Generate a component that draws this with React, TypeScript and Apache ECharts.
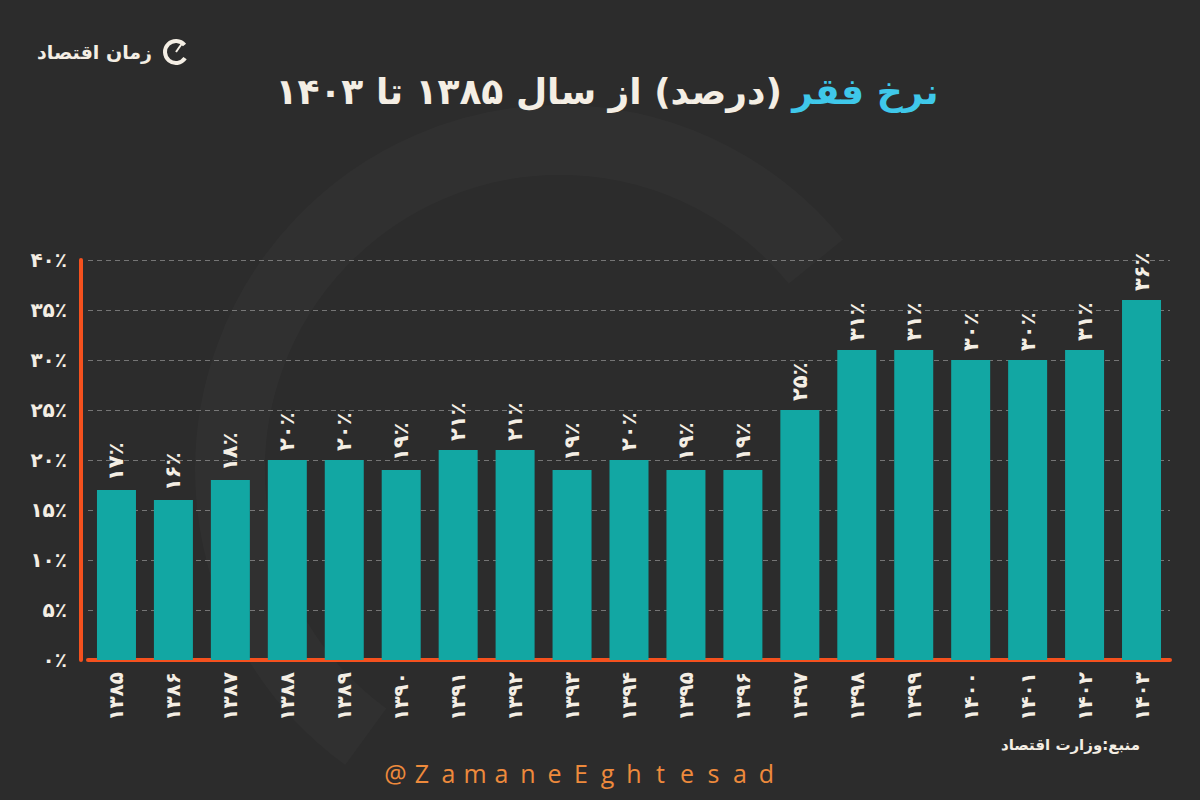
import React, { useEffect, useRef } from "react";
import * as echarts from "echarts";

const years = ["۱۳۸۵", "۱۳۸۶", "۱۳۸۷", "۱۳۸۸", "۱۳۸۹", "۱۳۹۰", "۱۳۹۱", "۱۳۹۲", "۱۳۹۳", "۱۳۹۴", "۱۳۹۵", "۱۳۹۶", "۱۳۹۷", "۱۳۹۸", "۱۳۹۹", "۱۴۰۰", "۱۴۰۱", "۱۴۰۲", "۱۴۰۳"];
const povertyRate = [17, 16, 18, 20, 20, 19, 21, 21, 19, 20, 19, 19, 25, 31, 31, 30, 30, 31, 36];
const yMin = 0;
const yMax = 40;
const yStep = 5;

const titleHighlight = "نرخ فقر";
const titleRest = "(درصد) از سال ۱۳۸۵ تا ۱۴۰۳";
const brand = "زمان اقتصاد";
const source = "منبع:وزارت اقتصاد";
const handle = "@ZamaneEghtesad";

const FA = "۰۱۲۳۴۵۶۷۸۹";
const toFa = (n: number) => String(n).replace(/\d/g, (d) => FA[Number(d)]);
const rtl = (s: string) => "\u202B" + s + "\u202C";

const CREAM = "#f4eee4";
const FONT = "DejaVu Sans";

export default function App() {
  const ref = useRef<HTMLDivElement>(null);
  useEffect(() => {
    if (!ref.current) return;
    const chart = echarts.init(ref.current, null, { renderer: "svg" });
    const handleRich = handle
      .split("")
      .map((c) => `{h|${c}}`)
      .join("");
    chart.setOption({
      animation: false,
      backgroundColor: "#2c2c2c",
      title: {
        text: `{w|${rtl(titleRest)}}{s| }{c|${rtl(titleHighlight)}}`,
        left: 602,
        textAlign: "center",
        top: 68,
        textStyle: {
          rich: {
            w: { color: CREAM, fontSize: 36, fontWeight: "bold", fontFamily: FONT },
            s: { fontSize: 30, fontFamily: FONT },
            c: { color: "#3fc8ea", fontSize: 36, fontWeight: "bold", fontFamily: FONT },
          },
        },
      },
      graphic: [
        {
          type: "arc",
          shape: { cx: 560, cy: 470, r: 330, startAngle: 2.2, endAngle: 5.6 },
          style: { stroke: "rgba(255,255,255,0.02)", lineWidth: 70, fill: "none" },
          silent: true,
          z: -10,
        },
        {
          type: "arc",
          shape: { cx: 176, cy: 52, r: 11, startAngle: 0.6, endAngle: 5.6 },
          style: { stroke: CREAM, lineWidth: 4, fill: "none" },
        },
        {
          type: "line",
          shape: { x1: 176, y1: 52, x2: 183, y2: 42 },
          style: { stroke: CREAM, lineWidth: 2 },
        },
        {
          type: "text",
          x: 152,
          y: 52,
          style: {
            text: rtl(brand),
            fill: CREAM,
            font: `bold 19px "${FONT}"`,
            align: "right",
            verticalAlign: "middle",
          },
        },
        {
          type: "text",
          x: 1140,
          y: 745,
          style: {
            text: rtl(source),
            fill: CREAM,
            font: `bold 15px "${FONT}"`,
            align: "right",
            verticalAlign: "middle",
          },
        },
        {
          type: "text",
          x: 581,
          y: 773,
          style: {
            text: handleRich,
            align: "center",
            verticalAlign: "middle",
            rich: {
              h: {
                width: 26.5,
                align: "center",
                fill: "#ee8a3c",
                color: "#ee8a3c",
                fontSize: 25,
                fontFamily: "Open Sans",
              },
            },
          },
        },
      ],
      grid: { left: 88, right: 30, top: 260, bottom: 140 },
      xAxis: {
        type: "category",
        data: years,
        axisLine: { lineStyle: { color: "#f4511e", width: 4 } },
        axisTick: { show: false },
        axisLabel: {
          rotate: 90,
          color: CREAM,
          fontSize: 20,
          fontWeight: "bold",
          fontFamily: FONT,
          margin: 12,
          interval: 0,
        },
      },
      yAxis: {
        type: "value",
        min: yMin,
        max: yMax,
        interval: yStep,
        offset: 7,
        axisLine: { show: true, lineStyle: { color: "#f4511e", width: 4 } },
        axisTick: { show: false },
        splitLine: { lineStyle: { color: "rgba(255,255,255,0.35)", type: [5, 4], width: 1 } },
        axisLabel: {
          color: CREAM,
          fontSize: 20,
          fontWeight: "bold",
          fontFamily: FONT,
          margin: 14,
          formatter: (v: number) => toFa(v) + "٪",
        },
      },
      series: [
        {
          type: "bar",
          data: povertyRate,
          barWidth: 39,
          itemStyle: { color: "#12a7a3" },
          label: {
            show: true,
            position: "top",
            rotate: 90,
            align: "left",
            verticalAlign: "middle",
            distance: 9,
            color: CREAM,
            fontSize: 21,
            fontWeight: "bold",
            fontFamily: FONT,
            formatter: (p: any) => toFa(p.value) + "٪",
          },
        },
      ],
    });
    return () => chart.dispose();
  }, []);
  return <div ref={ref} style={{ position: "fixed", left: 0, top: 0, width: 1200, height: 800 }} />;
}
